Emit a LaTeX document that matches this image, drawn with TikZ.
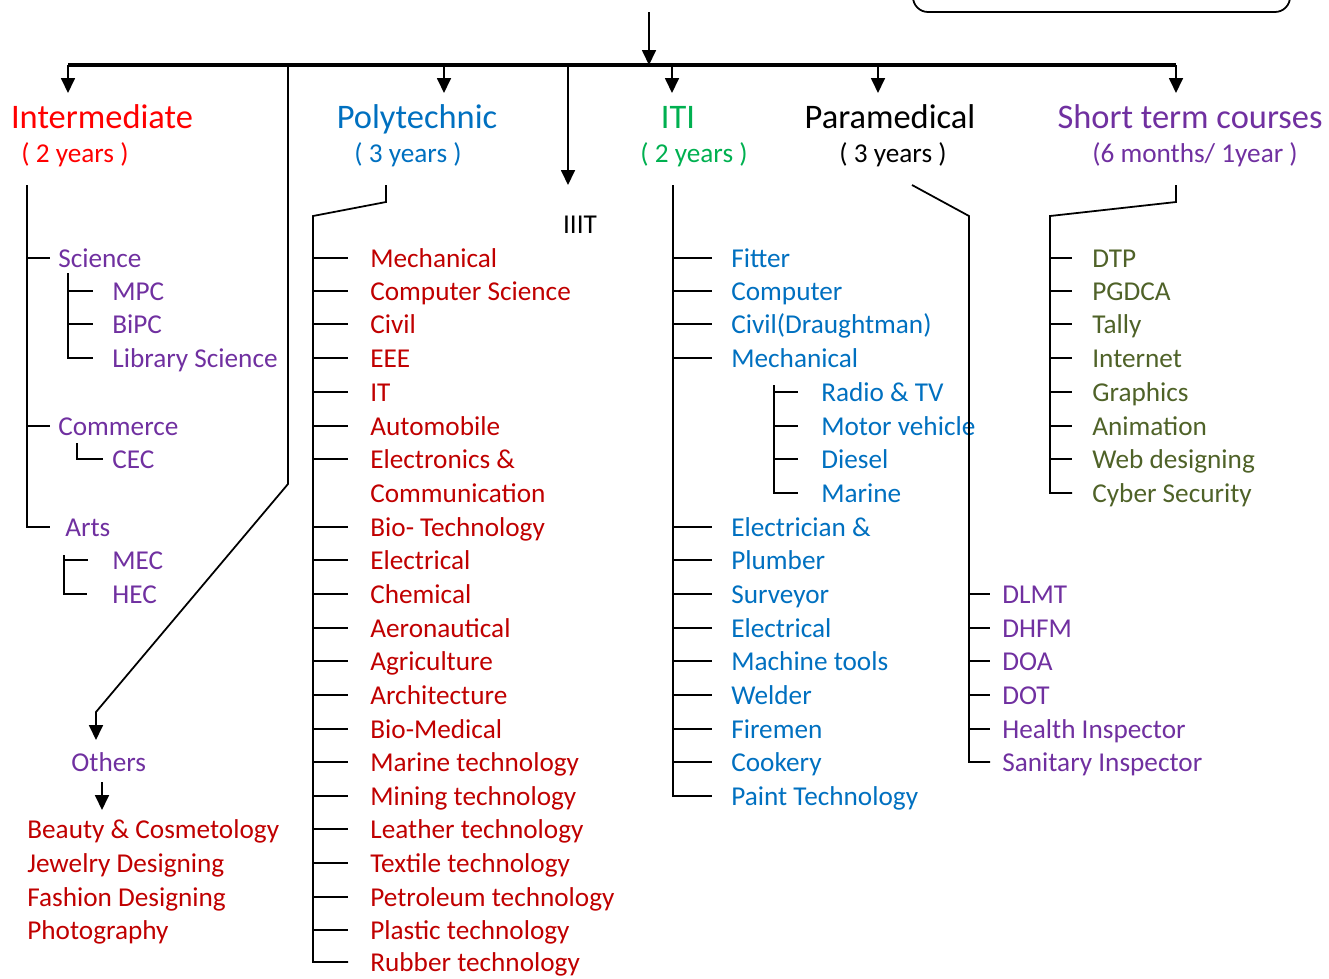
\documentclass[tikz,border=0pt]{standalone}
\usepackage{fontspec}
\setmainfont{Carlito}
\usetikzlibrary{arrows.meta,calc}
\definecolor{hotred}{HTML}{FF0000}
\definecolor{darkred}{HTML}{C00000}
\definecolor{polyblue}{HTML}{0070C0}
\definecolor{itigreen}{HTML}{00B050}
\definecolor{plum}{HTML}{7030A0}
\definecolor{olive}{HTML}{4F6228}

\begin{document}
\begin{tikzpicture}[x=0.02cm,y=-0.02cm,
    wire/.style={line width=1pt,black},
    mainbar/.style={line width=1.8pt,black},
    arr/.style={line width=1pt,-{Triangle[width=0.28cm,length=0.3cm]}},
    head/.style={inner sep=0pt,text height=14pt,text depth=0pt,font=\fontsize{19.6}{22}\selectfont},
    yrs/.style={inner sep=0pt,text height=12pt,text depth=1.4pt,font=\fontsize{15.5}{18}\selectfont},
    item/.style={anchor=west,inner sep=0pt,text height=12pt,text depth=1.4pt,font=\fontsize{15.5}{18}\selectfont},
    twig/.style={line width=1pt,shorten >=#1}
  ]
    \useasboundingbox (0,0) rectangle (1329,978);

    % Box at the top (cut by the page edge)
    \draw[wire,rounded corners=0.3cm] (913,-40) rectangle (1290,12);

    % Main bar and arrows
    \coordinate (root) at (649,12);
    \coordinate (bl) at (68,65);
    \coordinate (br) at (1176,65);
    \draw[mainbar] (bl) -- (br);
    \draw[arr] (root) -- (649,65);
    \draw[arr] (bl) -- (68,93);
    \draw[arr] (444,65) -- (444,93);
    \draw[arr] (672,65) -- (672,93);
    \draw[arr] (878,65) -- (878,93);
    \draw[arr] (br) -- (1176,93);
    \draw[arr] (568,65) -- (568,185);
    \draw[arr] (288,65) -- (288,484) -- (96,712) -- (96,740);

    % Headings
    \node[head,text=hotred] (inter) at (102,116) {Intermediate};
    \node[yrs,text=hotred] (interyr) at (75,153) {( 2 years )};
    \node[head,text=polyblue] (poly) at (417,116) {Polytechnic};
    \node[yrs,text=polyblue] (polyyr) at (408,153) {( 3 years )};
    \node[head,text=itigreen] (iti) at (678,116) {ITI};
    \node[yrs,text=itigreen] (itiyr) at (694,153) {( 2 years )};
    \node[head] (para) at (890,116) {Paramedical};
    \node[yrs] (parayr) at (893,153) {( 3 years )};
    \node[head,text=plum] (short) at (1190,116) {Short term courses};
    \node[yrs,text=plum] (shortyr) at (1195,153) {(6 months/ 1year )};
    \node[yrs] (iiit) at (580,224) {IIIT};

    % Intermediate
    \coordinate (intspine) at (27,185);
    \node[item,text=plum] (sci) at (58,258) {Science};
    \node[item,text=plum] (com) at (58,426) {Commerce};
    \node[item,text=plum] (arts) at (65,527) {Arts};
    \draw[wire,shorten >=0.3cm] (intspine) |- (arts.west);
    \foreach \n in {sci,com} \draw[twig=0.16cm] (intspine |- \n.west) -- (\n.west);

    \coordinate (scispine) at (68,273);
    \node[item,text=plum] (mpc) at (112,291) {MPC};
    \node[item,text=plum] (bipc) at (112,324) {BiPC};
    \node[item,text=plum] (lib) at (112,358) {Library Science};
    \draw[wire,shorten >=0.38cm] (scispine) |- (lib.west);
    \foreach \n in {mpc,bipc} \draw[twig=0.38cm] (scispine |- \n.west) -- (\n.west);

    \coordinate (comspine) at (77,443);
    \node[item,text=plum] (cec) at (112,459) {CEC};
    \draw[wire,shorten >=0.18cm] (comspine) |- (cec.west);

    \coordinate (artspine) at (64,555);
    \node[item,text=plum] (mec) at (112,560) {MEC};
    \node[item,text=plum] (hec) at (112,594) {HEC};
    \draw[wire,shorten >=0.5cm] (artspine) |- (hec.west);
    \draw[twig=0.48cm] (artspine |- mec.west) -- (mec.west);

    % Others
    \node[item,text=plum] (others) at (71,762) {Others};
    \draw[arr] (102,782) -- (102,810);
    \node[item,text=darkred] (beauty) at (27,829) {Beauty \& Cosmetology};
    \node[item,text=darkred] (jewel) at (27,863) {Jewelry Designing};
    \node[item,text=darkred] (fashion) at (27,897) {Fashion Designing};
    \node[item,text=darkred] (photo) at (27,930) {Photography};

    % Polytechnic
    \coordinate (polyspine) at (313,216);
    \node[item,text=darkred] (pmech) at (370,258) {Mechanical};
    \node[item,text=darkred] (pcse) at (370,291) {Computer Science};
    \node[item,text=darkred] (pcivil) at (370,324) {Civil};
    \node[item,text=darkred] (peee) at (370,358) {EEE};
    \node[item,text=darkred] (pit) at (370,392) {IT};
    \node[item,text=darkred] (pauto) at (370,426) {Automobile};
    \node[item,text=darkred] (pece) at (370,459) {Electronics \&};
    \node[item,text=darkred] (pcomm) at (370,493) {Communication};
    \node[item,text=darkred] (pbio) at (370,527) {Bio- Technology};
    \node[item,text=darkred] (pelec) at (370,560) {Electrical};
    \node[item,text=darkred] (pchem) at (370,594) {Chemical};
    \node[item,text=darkred] (paero) at (370,628) {Aeronautical};
    \node[item,text=darkred] (pagri) at (370,661) {Agriculture};
    \node[item,text=darkred] (parch) at (370,695) {Architecture};
    \node[item,text=darkred] (pbiomed) at (370,729) {Bio-Medical};
    \node[item,text=darkred] (pmarine) at (370,762) {Marine technology};
    \node[item,text=darkred] (pmining) at (370,796) {Mining technology};
    \node[item,text=darkred] (pleather) at (370,829) {Leather technology};
    \node[item,text=darkred] (ptextile) at (370,863) {Textile technology};
    \node[item,text=darkred] (ppetro) at (370,897) {Petroleum technology};
    \node[item,text=darkred] (pplastic) at (370,930) {Plastic technology};
    \node[item,text=darkred] (prubber) at (370,962) {Rubber technology};
    \draw[wire,shorten >=0.44cm] (386,185) -- (386,202) -- (polyspine) |- (prubber.west);
    \foreach \n in {pmech,pcse,pcivil,peee,pit,pauto,pece,pbio,pelec,pchem,paero,pagri,parch,pbiomed,pmarine,pmining,pleather,ptextile,ppetro,pplastic}
      \draw[twig=0.44cm] (polyspine |- \n.west) -- (\n.west);

    % ITI
    \coordinate (itispine) at (673,185);
    \node[item,text=polyblue] (ifit) at (731,258) {Fitter};
    \node[item,text=polyblue] (icomp) at (731,291) {Computer};
    \node[item,text=polyblue] (icivil) at (731,324) {Civil(Draughtman)};
    \node[item,text=polyblue] (imech) at (731,358) {Mechanical};
    \node[item,text=polyblue] (ielec) at (731,527) {Electrician \&};
    \node[item,text=polyblue] (iplumb) at (731,560) {Plumber};
    \node[item,text=polyblue] (isurv) at (731,594) {Surveyor};
    \node[item,text=polyblue] (ielcl) at (731,628) {Electrical};
    \node[item,text=polyblue] (imach) at (731,661) {Machine tools};
    \node[item,text=polyblue] (iweld) at (731,695) {Welder};
    \node[item,text=polyblue] (ifire) at (731,729) {Firemen};
    \node[item,text=polyblue] (icook) at (731,762) {Cookery};
    \node[item,text=polyblue] (ipaint) at (731,796) {Paint Technology};
    \draw[wire,shorten >=0.38cm] (itispine) |- (ipaint.west);
    \foreach \n in {ifit,icomp,icivil,imech,ielec,iplumb,isurv,ielcl,imach,iweld,ifire,icook}
      \draw[twig=0.38cm] (itispine |- \n.west) -- (\n.west);

    \coordinate (mechspine) at (774,385);
    \node[item,text=polyblue] (iradio) at (821,392) {Radio \& TV};
    \node[item,text=polyblue] (imotor) at (821,426) {Motor vehicle};
    \node[item,text=polyblue] (idiesel) at (821,459) {Diesel};
    \node[item,text=polyblue] (imarine) at (821,493) {Marine};
    \draw[wire,shorten >=0.46cm] (mechspine) |- (imarine.west);
    \foreach \n in {iradio,imotor,idiesel}
      \draw[twig=0.46cm] (mechspine |- \n.west) -- (\n.west);

    % Paramedical
    \coordinate (paraspine) at (969,216);
    \node[item,text=plum] (dlmt) at (1002,594) {DLMT};
    \node[item,text=plum] (dhfm) at (1002,628) {DHFM};
    \node[item,text=plum] (doa) at (1002,661) {DOA};
    \node[item,text=plum] (dot) at (1002,695) {DOT};
    \node[item,text=plum] (health) at (1002,729) {Health Inspector};
    \node[item,text=plum] (sanitary) at (1002,762) {Sanitary Inspector};
    \draw[wire,shorten >=0.24cm] (912,185) -- (paraspine) |- (sanitary.west);
    \foreach \n in {dlmt,dhfm,doa,dot,health}
      \draw[twig=0.24cm] (paraspine |- \n.west) -- (\n.west);

    % Short term courses
    \coordinate (shortspine) at (1050,216);
    \node[item,text=olive] (dtp) at (1092,258) {DTP};
    \node[item,text=olive] (pgdca) at (1092,291) {PGDCA};
    \node[item,text=olive] (tally) at (1092,324) {Tally};
    \node[item,text=olive] (internet) at (1092,358) {Internet};
    \node[item,text=olive] (graphics) at (1092,392) {Graphics};
    \node[item,text=olive] (anim) at (1092,426) {Animation};
    \node[item,text=olive] (web) at (1092,459) {Web designing};
    \node[item,text=olive] (cyber) at (1092,493) {Cyber Security};
    \draw[wire,shorten >=0.4cm] (1176,185) -- (1176,202) -- (shortspine) |- (cyber.west);
    \foreach \n in {dtp,pgdca,tally,internet,graphics,anim,web}
      \draw[twig=0.4cm] (shortspine |- \n.west) -- (\n.west);
\end{tikzpicture}
\end{document}
